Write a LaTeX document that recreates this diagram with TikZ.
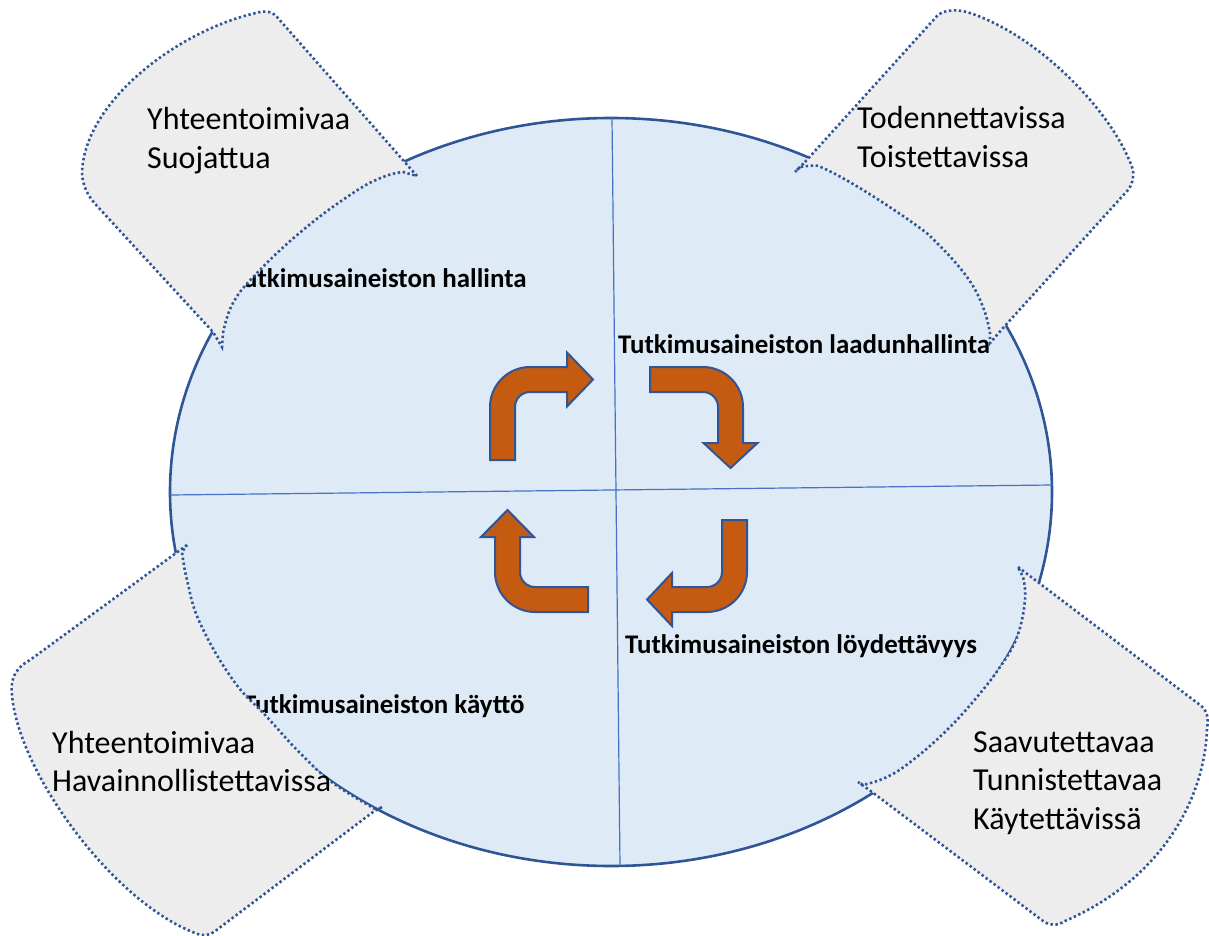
\documentclass[tikz,border=0pt]{standalone}
\usepackage{fontspec}
\setmainfont{Carlito}
\usetikzlibrary{shapes.geometric}
\definecolor{discfill}{HTML}{DEEBF7}
\definecolor{darkblue}{HTML}{2F5597}
\definecolor{midblue}{HTML}{4472C4}
\definecolor{calloutgray}{HTML}{EDEDED}
\definecolor{arroworange}{HTML}{C55A11}
\tikzset{
  disc/.style={ellipse, draw=darkblue, line width=2.6pt, fill=discfill,
    minimum width=882pt, minimum height=748pt, inner sep=0pt, outer sep=0pt},
  divider/.style={draw=midblue, line width=1.2pt},
  callout/.style={fill=calloutgray, draw=darkblue, line width=2.6pt,
    dash pattern=on 2.4pt off 2.6pt},
  cyclearrow/.style={fill=arroworange, draw=darkblue, line width=2pt, line join=miter},
  phase/.style={font=\fontsize{26.9}{32}\selectfont\bfseries, inner sep=0pt, anchor=base west},
  quality/.style={font=\fontsize{32}{38.5}\selectfont, inner sep=0pt, anchor=base west},
}
\begin{document}
\begin{tikzpicture}[x=1pt,y=-1pt]
\useasboundingbox (0,0) rectangle (1209,936);
% disc
\node[disc] (disc) at (611,492) {};
\coordinate (vtop) at (612,118);
\coordinate (vbot) at (620,866);
\coordinate (hleft) at (170,495);
\coordinate (hright) at (1052,485);
\draw[divider] (vtop) -- (vbot);
\draw[divider] (hleft) -- (hright);
% phase labels
\node[phase] (hallinta) at (231,287) {Tutkimusaineiston hallinta};
\node[phase] (laatu) at (618,353) {Tutkimusaineiston laadunhallinta};
\node[phase] (loyd) at (625,653) {Tutkimusaineiston löydettävyys};
\node[phase] (kaytto) at (243,713) {Tutkimusaineiston käyttö};
% cycle arrows
\path[cyclearrow] (490,460) -- (490,407) .. controls (490,385) and (508,367) .. (530,367)
  -- (567,367) -- (567,352.5) -- (593,379.5) -- (567,406.5) -- (567,392) -- (530,392)
  .. controls (521.7,392) and (515,398.7) .. (515,407) -- (515,460) -- cycle;
\path[cyclearrow] (650,367) -- (703,367) .. controls (725,367) and (743,385) .. (743,407)
  -- (743,443) -- (757.5,443) -- (730.5,468) -- (703.5,443) -- (718,443) -- (718,407)
  .. controls (718,398.7) and (711.3,392) .. (703,392) -- (650,392) -- cycle;
\path[cyclearrow] (722,520) -- (747,520) -- (747,572) .. controls (747,594) and (729,612) .. (707,612)
  -- (672,612) -- (672,626) -- (647,599.5) -- (672,573) -- (672,587) -- (707,587)
  .. controls (715.3,587) and (722,580.3) .. (722,572) -- cycle;
\path[cyclearrow] (588,587) -- (588,612) -- (535,612) .. controls (513,612) and (495,594) .. (495,572)
  -- (495,537) -- (481,537) -- (507.5,510) -- (534,537) -- (520,537) -- (520,572)
  .. controls (520,580.3) and (526.7,587) .. (535,587) -- cycle;
% callouts
\path[callout] (417,176) -- (277,17) .. controls (271,10) and (262,11) .. (256,13)
  .. controls (180,30) and (85,100) .. (82,172) .. controls (82,185) and (88,197) .. (98,207)
  -- (213,332) -- (222,347)
  -- plot[smooth,tension=0.7] coordinates {(223,333) (233,303) (257,273) (303,230) (353,193) (383,177) (403,172)}
  -- cycle;
\path[callout] (805,162) -- (937,16) .. controls (943,10) and (955,9) .. (967,12)
  .. controls (1040,35) and (1115,115) .. (1133,170) .. controls (1134,178) and (1132,185) .. (1128,190)
  -- (1003,328) -- (990,343)
  -- plot[smooth,tension=0.7] coordinates {(990,333) (983,307) (967,277) (937,243) (913,223) (863,190) (823,168) (810,166) (800,167)}
  -- (795,172) -- cycle;
\path[callout] (187,545) -- (30,660) .. controls (15,668) and (10,680) .. (12,695)
  .. controls (18,770) and (110,900) .. (195,933) .. controls (202,936) and (208,936) .. (214,932)
  -- (373,812) -- (382,807)
  -- plot[smooth,tension=0.7] coordinates {(377,810) (333,783) (300,753) (267,717) (233,680) (200,623) (187,580) (182,552)}
  -- cycle;
\path[callout] (1018,567) -- (1200,705) .. controls (1207,710) and (1209,718) .. (1207,728)
  .. controls (1205,800) and (1160,880) .. (1065,921) .. controls (1057,926) and (1050,926) .. (1043,921)
  -- (872,792) -- (858,782)
  -- plot[smooth,tension=0.7] coordinates {(863,785) (887,777) (913,760) (947,730) (977,697) (1000,667) (1017,637) (1025,600) (1023,577)}
  -- cycle;
% callout texts
\node[quality] (tl) at (147,130) {\vtop{\hbox{Yhteentoimivaa}\hbox{Suojattua}}};
\node[quality] (tr) at (857,129) {\vtop{\hbox{Todennettavissa}\hbox{Toistettavissa}}};
\node[quality] (bl) at (52,753) {\vtop{\hbox{Yhteentoimivaa}\hbox{Havainnollistettavissa}}};
\node[quality] (br) at (973,752) {\vtop{\hbox{Saavutettavaa}\hbox{Tunnistettavaa}\hbox{Käytettävissä}}};
\end{tikzpicture}
\end{document}
